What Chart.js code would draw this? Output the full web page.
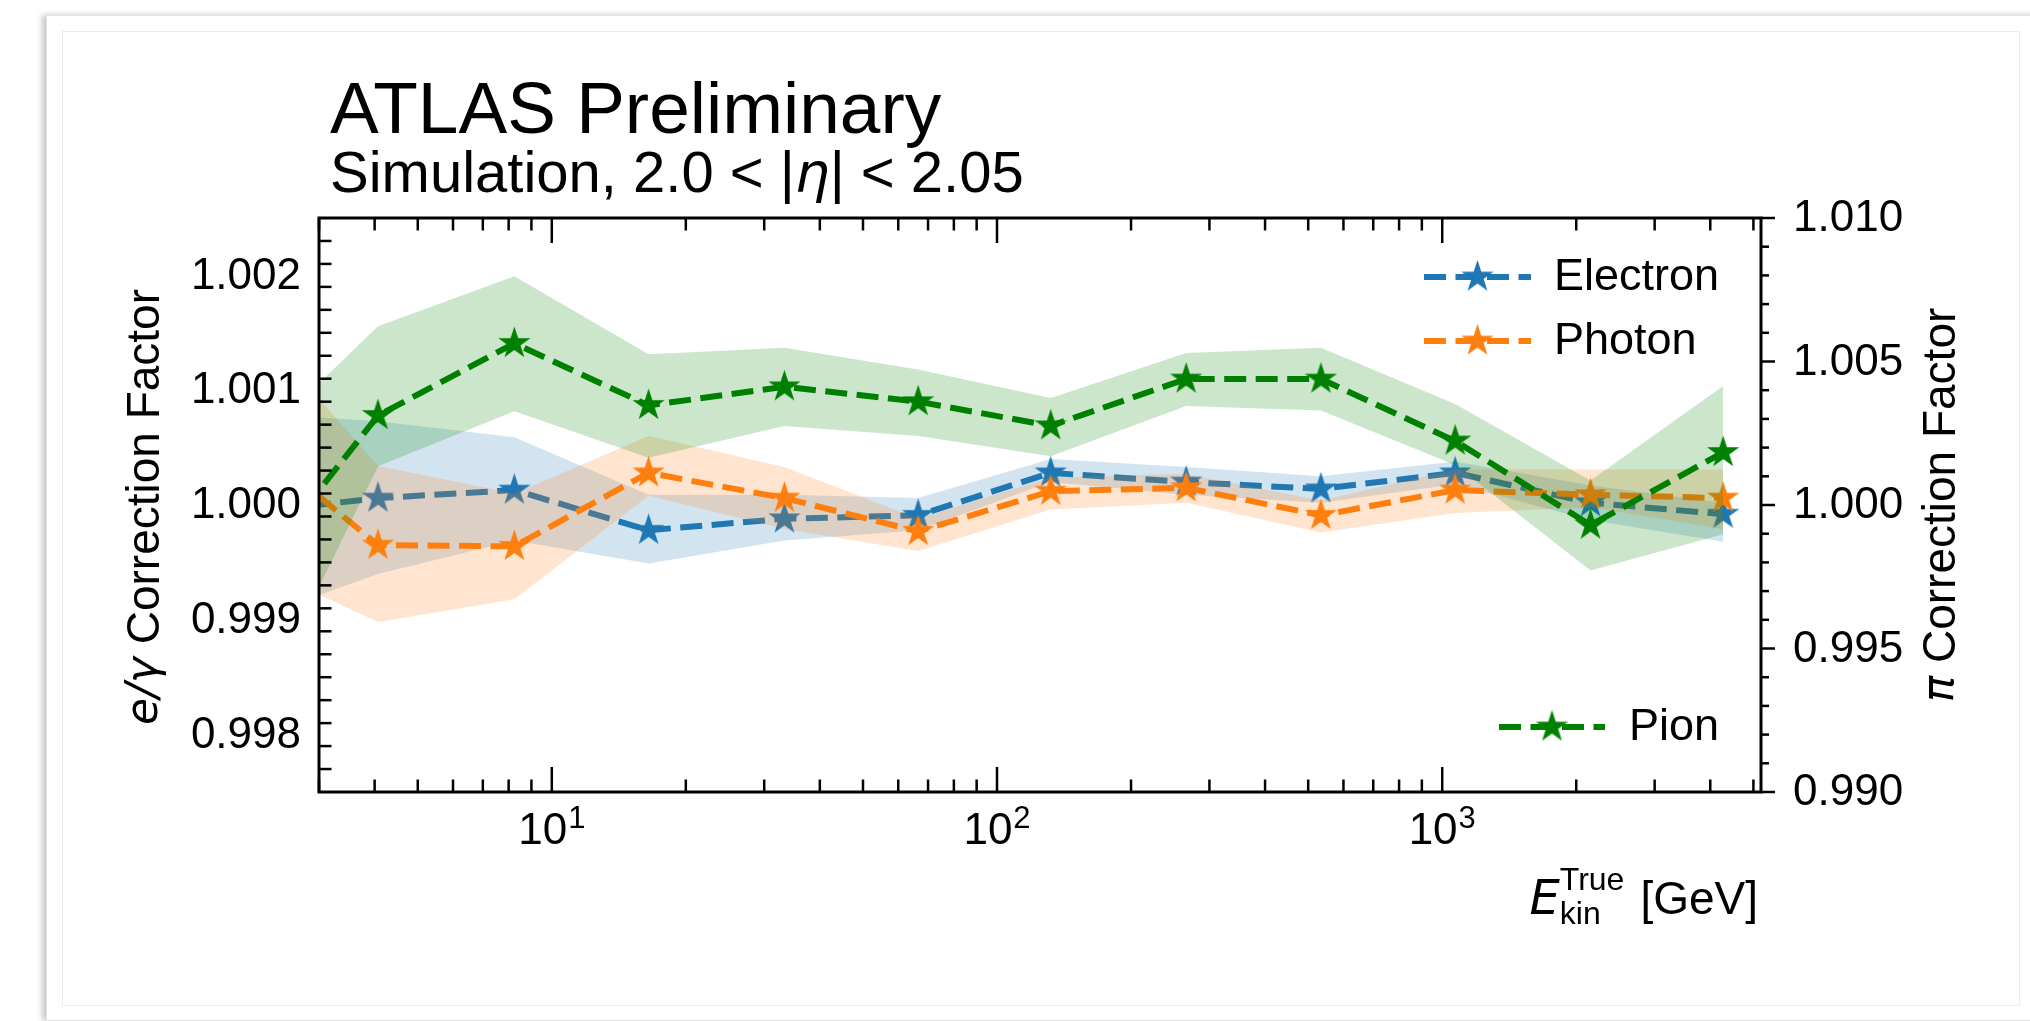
<!DOCTYPE html>
<html>
<head>
<meta charset="utf-8">
<script src="https://cdn.jsdelivr.net/npm/chart.js@4.4.1/dist/chart.umd.min.js"></script>
<style>
  html, body { margin: 0; padding: 0; background: #fff; width: 2030px; height: 1021px; overflow: hidden; }
  .sheet { position: absolute; left: 46px; top: 15px; width: 2010px; height: 1004px;
           border: 1px solid #e2e2e2; box-shadow: -4px 0 6px rgba(0,0,0,0.22); background: #fff; }
  .frame { position: absolute; left: 62px; top: 31px; width: 1956px; height: 973px; border: 1px solid #ececec; }
  canvas { position: absolute; left: 0; top: 0; }
</style>
</head>
<body>
<div class="sheet"></div>
<div class="frame"></div>
<canvas id="chart" width="2030" height="1021"></canvas>
<script>
// Kinetic energy of the simulated particles [GeV]
const energyGeV = [2.06, 4.07, 8.24, 16.5, 33.3, 66.5, 132, 266, 534, 1069, 2153, 4276];

// e/gamma correction factors (left axis) with their uncertainty bands
const electron     = [0.99993, 1.00006, 1.00013, 0.99978, 0.99988, 0.99991, 1.00028, 1.00020, 1.00014, 1.00028, 1.00002, 0.99992];
const electronLow  = [0.99899, 0.99940, 0.99969, 0.99949, 0.99969, 0.99978, 1.00020, 1.00009, 1.00002, 1.00018, 0.99987, 0.99968];
const electronHigh = [1.00080, 1.00073, 1.00059, 1.00009, 1.00009, 1.00006, 1.00040, 1.00033, 1.00025, 1.00038, 1.00017, 1.00002];

const photon     = [1.00060, 0.99965, 0.99964, 1.00028, 1.00006, 0.99977, 1.00012, 1.00015, 0.99991, 1.00013, 1.00009, 1.00006];
const photonLow  = [0.99951, 0.99898, 0.99918, 1.00008, 0.99979, 0.99960, 0.99996, 1.00002, 0.99976, 0.99993, 0.99998, 0.99979];
const photonHigh = [1.00164, 1.00034, 1.00010, 1.00060, 1.00033, 0.99988, 1.00024, 1.00027, 1.00004, 1.00031, 1.00031, 1.00031];

// pion correction factors (right axis)
const pion     = [0.99730, 1.00312, 1.00563, 1.00347, 1.00412, 1.00360, 1.00276, 1.00439, 1.00439, 1.00223, 0.99930, 1.00183];
const pionLow  = [0.99195, 1.00135, 1.00327, 1.00165, 1.00275, 1.00240, 1.00170, 1.00345, 1.00329, 1.00139, 0.99772, 0.99898];
const pionHigh = [1.00180, 1.00623, 1.00797, 1.00525, 1.00548, 1.00472, 1.00373, 1.00530, 1.00548, 1.00352, 1.00085, 1.00415];

// axis ranges and tick labels
const xRange = [3, 5200];
const leftRange = [0.9975, 1.0025];
const rightRange = [0.990, 1.010];
const leftTicks = [0.998, 0.999, 1.000, 1.001, 1.002];
const leftTickLabels = ['0.998', '0.999', '1.000', '1.001', '1.002'];
const rightTicks = [0.990, 0.995, 1.000, 1.005, 1.010];
const rightTickLabels = ['0.990', '0.995', '1.000', '1.005', '1.010'];
const xTicks = [10, 100, 1000];
const xTickExponents = ['1', '2', '3'];

const BLUE = '#1f77b4', ORANGE = '#ff7f0e', GREEN = '#008000';
const SANS = '"Liberation Sans", Arial, Helvetica, sans-serif';
const MATH = '"DejaVu Sans", sans-serif';

function traceStar(g, cx, cy, r) {
  g.beginPath();
  for (let i = 0; i < 10; i++) {
    const rad = i % 2 === 0 ? r : r * 0.382;
    const a = -Math.PI / 2 + i * Math.PI / 5;
    g.lineTo(cx + rad * Math.cos(a), cy + rad * Math.sin(a));
  }
  g.closePath();
}
function starSprite(color, r) {
  const s = Math.ceil(2 * r + 6);
  const c = document.createElement('canvas');
  c.width = s; c.height = s;
  const g = c.getContext('2d');
  traceStar(g, s / 2, s / 2, r);
  g.fillStyle = color; g.fill();
  g.lineJoin = 'miter'; g.strokeStyle = color; g.lineWidth = 1.5; g.stroke();
  return c;
}
const STAR_R = 14.5;
const DASH = [22, 9.5];
const LINE_W = 6;

function pts(ys) { return energyGeV.map((x, i) => ({ x: x, y: ys[i] })); }
function lineSet(label, ys, color, axis, order) {
  return {
    label: label, data: pts(ys), yAxisID: axis, order: order,
    borderColor: color, borderWidth: LINE_W, borderDash: DASH, borderCapStyle: 'butt',
    pointStyle: starSprite(color, STAR_R), pointRadius: 10, pointHoverRadius: 10,
    fill: false, tension: 0, clip: 0
  };
}
function bandSet(ys, axis, order, fillTo, fillColor) {
  return {
    label: '', data: pts(ys), yAxisID: axis, order: order,
    borderWidth: 0, borderColor: 'rgba(0,0,0,0)', pointRadius: 0,
    fill: fillTo === null ? false : fillTo, backgroundColor: fillColor, tension: 0, clip: 0
  };
}

const datasets = [
  lineSet('Pion', pion, GREEN, 'y2', 0),
  bandSet(pionHigh, 'y2', 1, 2, 'rgba(0,128,0,0.2)'),
  bandSet(pionLow, 'y2', 2, null, 'rgba(0,0,0,0)'),
  lineSet('Photon', photon, ORANGE, 'y', 3),
  bandSet(photonHigh, 'y', 4, 5, 'rgba(255,127,14,0.2)'),
  bandSet(photonLow, 'y', 5, null, 'rgba(0,0,0,0)'),
  lineSet('Electron', electron, BLUE, 'y', 6),
  bandSet(electronHigh, 'y', 7, 8, 'rgba(31,119,180,0.2)'),
  bandSet(electronLow, 'y', 8, null, 'rgba(0,0,0,0)')
];

function drawLegendEntry(ctx, x0, x1, y, color, label, textX) {
  ctx.save();
  ctx.strokeStyle = color; ctx.lineWidth = LINE_W; ctx.setLineDash(DASH); ctx.lineCap = 'butt';
  ctx.beginPath(); ctx.moveTo(x0, y); ctx.lineTo(x1, y); ctx.stroke();
  ctx.setLineDash([]);
  const s = starSprite(color, STAR_R);
  ctx.drawImage(s, (x0 + x1) / 2 - s.width / 2, y - s.height / 2);
  ctx.fillStyle = '#000'; ctx.font = '45px ' + SANS; ctx.textBaseline = 'middle'; ctx.textAlign = 'left';
  ctx.fillText(label, textX, y + 1);
  ctx.restore();
}

const frameAndText = {
  id: 'frameAndText',
  afterDraw(chart) {
    const ctx = chart.ctx;
    const a = chart.chartArea;
    const xs = chart.scales.x, yl = chart.scales.y, yr = chart.scales.y2;
    ctx.save();
    ctx.strokeStyle = '#000'; ctx.fillStyle = '#000';

    // ticks
    const MAJ = 25, MIN = 12.5;
    ctx.lineWidth = 2.5;
    const seg = (x1, y1, x2, y2) => { ctx.beginPath(); ctx.moveTo(x1, y1); ctx.lineTo(x2, y2); ctx.stroke(); };
    // x axis (bottom and top, inward)
    for (let d = 1; d <= 1000; d *= 10) {
      for (let k = 1; k <= 9; k++) {
        const v = d * k;
        if (v < xRange[0] || v > xRange[1]) continue;
        const px = xs.getPixelForValue(v);
        const len = k === 1 ? MAJ : MIN;
        seg(px, a.bottom, px, a.bottom - len);
        seg(px, a.top, px, a.top + len);
      }
    }
    // left axis, inward
    for (let i = 1; i < 25; i++) {
      const v = leftRange[0] + i * 0.0002;
      const py = yl.getPixelForValue(v);
      const major = leftTicks.some(t => Math.abs(t - v) < 1e-7);
      seg(a.left, py, a.left + (major ? MAJ : MIN), py);
    }
    // right axis, outward
    for (let i = 0; i <= 20; i++) {
      const v = rightRange[0] + i * 0.001;
      const py = yr.getPixelForValue(v);
      const major = rightTicks.some(t => Math.abs(t - v) < 1e-7);
      seg(a.right, py, a.right + (major ? 14 : 8), py);
    }

    // spines
    ctx.lineWidth = 3;
    ctx.strokeRect(a.left, a.top, a.right - a.left, a.bottom - a.top);

    // tick labels
    ctx.font = '44px ' + SANS;
    ctx.textBaseline = 'middle';
    ctx.textAlign = 'right';
    leftTicks.forEach((t, i) => ctx.fillText(leftTickLabels[i], a.left - 18, yl.getPixelForValue(t) + 1));
    ctx.textAlign = 'left';
    rightTicks.forEach((t, i) => ctx.fillText(rightTickLabels[i], a.right + 32, yr.getPixelForValue(t) + 1));

    ctx.textBaseline = 'alphabetic';
    xTicks.forEach((t, i) => {
      const px = xs.getPixelForValue(t);
      ctx.font = '44px ' + SANS;
      const wb = ctx.measureText('10').width;
      ctx.font = '31px ' + SANS;
      const we = ctx.measureText(xTickExponents[i]).width;
      const x0 = px - (wb + we + 1) / 2;
      ctx.textAlign = 'left';
      ctx.font = '44px ' + SANS;
      ctx.fillText('10', x0, a.bottom + 52);
      ctx.font = '31px ' + SANS;
      ctx.fillText(xTickExponents[i], x0 + wb + 1, a.bottom + 36);
    });

    // x-axis title: E_kin^True [GeV], right aligned with the axes
    ctx.textAlign = 'left';
    ctx.font = '46px ' + SANS;
    const gev = '[GeV]';
    const wGev = ctx.measureText(gev).width;
    const baseY = 914;
    const gevX = a.right - 3 - wGev;
    ctx.fillText(gev, gevX, baseY);
    ctx.font = '32px ' + SANS;
    const wTrue = ctx.measureText('True').width;
    const wKin = ctx.measureText('kin').width;
    const scriptX = gevX - 16 - Math.max(wTrue, wKin);
    ctx.fillText('True', scriptX, baseY - 24);
    ctx.fillText('kin', scriptX, baseY + 10);
    ctx.font = 'italic 48px ' + MATH;
    const wE = ctx.measureText('E').width;
    ctx.fillText('E', scriptX - wE, baseY);

    // y titles
    const drawRotated = (cx, cy, parts) => {
      ctx.save();
      ctx.translate(cx, cy);
      ctx.rotate(-Math.PI / 2);
      let total = 0;
      parts.forEach(p => { ctx.font = p.font; p.w = ctx.measureText(p.t).width; total += p.w; });
      let x = -total / 2;
      ctx.textBaseline = 'middle';
      ctx.textAlign = 'left';
      parts.forEach(p => { ctx.font = p.font; ctx.fillText(p.t, x, 0); x += p.w; });
      ctx.restore();
    };
    drawRotated(146, 507, [
      { t: 'e/γ', font: 'italic 44px ' + MATH },
      { t: ' Correction Factor', font: '46px ' + SANS }
    ]);
    drawRotated(1942, 505, [
      { t: 'π', font: 'italic 44px ' + MATH },
      { t: ' Correction Factor', font: '46px ' + SANS }
    ]);

    // headline
    ctx.textAlign = 'left';
    ctx.textBaseline = 'alphabetic';
    ctx.font = '73px ' + SANS;
    ctx.fillText('ATLAS Preliminary', 330, 133);
    let sx = 330;
    const sub = [
      { t: 'Simulation, 2.0 < |', font: '58px ' + SANS },
      { t: 'η', font: 'italic 55px ' + MATH },
      { t: '| < 2.05', font: '58px ' + SANS }
    ];
    sub.forEach(p => { ctx.font = p.font; ctx.fillText(p.t, sx, 192); sx += ctx.measureText(p.t).width; });

    ctx.restore();

    // legends
    drawLegendEntry(ctx, 1424, 1531, 277, BLUE, 'Electron', 1554);
    drawLegendEntry(ctx, 1424, 1531, 341, ORANGE, 'Photon', 1554);
    drawLegendEntry(ctx, 1499, 1605, 727, GREEN, 'Pion', 1629);
  }
};

new Chart(document.getElementById('chart'), {
  type: 'line',
  data: { datasets: datasets },
  options: {
    responsive: false,
    devicePixelRatio: 1,
    animation: false,
    events: [],
    layout: { padding: { left: 319, right: 269, top: 218, bottom: 229 } },
    scales: {
      x: { type: 'logarithmic', min: xRange[0], max: xRange[1], display: false },
      y: { type: 'linear', min: leftRange[0], max: leftRange[1], display: false },
      y2: { type: 'linear', min: rightRange[0], max: rightRange[1], display: false, position: 'right' }
    },
    plugins: { legend: { display: false }, tooltip: { enabled: false } }
  },
  plugins: [frameAndText]
});
</script>
</body>
</html>
